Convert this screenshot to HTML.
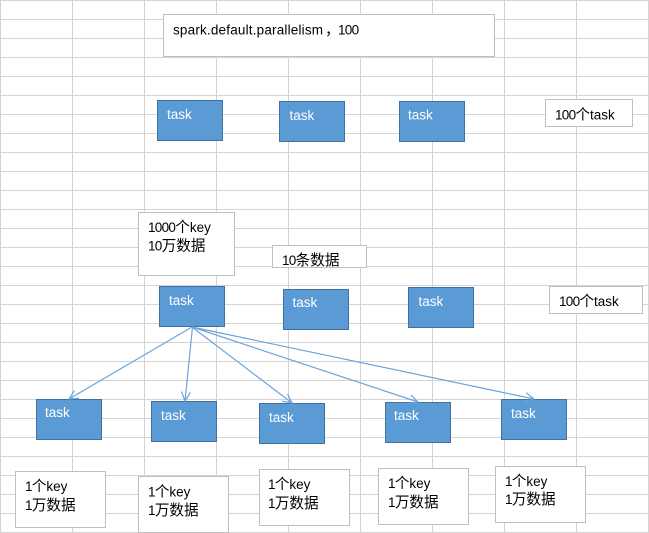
<!DOCTYPE html>
<html>
<head>
<meta charset="utf-8">
<style>
html,body{margin:0;padding:0;background:#fff;width:649px;height:533px;overflow:hidden}
svg{display:block}
text{font-family:"Liberation Sans","Noto Sans CJK SC",sans-serif;font-size:13.5px;fill:#000}
.c{font-family:"Noto Sans CJK SC","WenQuanYi Zen Hei",sans-serif;font-size:14.6px}
.d{font-size:13.5px;letter-spacing:-0.7px}
.t{fill:#fff}
.g{stroke:#d4d4d4;stroke-width:1;fill:none;shape-rendering:crispEdges}
.b{fill:#5b9bd5;stroke:#41719c;stroke-width:1;shape-rendering:crispEdges}
.w{fill:#fff;stroke:#bfbfbf;stroke-width:1;shape-rendering:crispEdges}
.a{stroke:#6aa5dc;stroke-width:1.2;fill:none}
</style>
</head>
<body>
<svg width="649" height="533" viewBox="0 0 649 533" xmlns="http://www.w3.org/2000/svg">
<defs>
<marker id="h" markerUnits="userSpaceOnUse" markerWidth="12" markerHeight="12" refX="10" refY="6" orient="auto">
<path d="M1,1.500 L10,6 L1,10.500" fill="none" stroke="#6aa5dc" stroke-width="1.2"/>
</marker>
</defs>
<path class="g" d="M0.500 0V533M72.500 0V533M144.500 0V533M216.500 0V533M288.500 0V533M360.500 0V533M432.500 0V533M504.500 0V533M576.500 0V533M648.500 0V533"/>
<path class="g" d="M0 0.500H649M0 19.500H649M0 38.500H649M0 57.500H649M0 76.500H649M0 95.500H649M0 114.500H649M0 133.500H649M0 152.500H649M0 171.500H649M0 190.500H649M0 209.500H649M0 228.500H649M0 247.500H649M0 266.500H649M0 285.500H649M0 304.500H649M0 323.500H649M0 342.500H649M0 361.500H649M0 380.500H649M0 399.500H649M0 418.500H649M0 437.500H649M0 456.500H649M0 475.500H649M0 494.500H649M0 513.500H649M0 532.500H649"/>

<rect class="w" x="163.500" y="14.500" width="331" height="42"/>
<text x="173" y="34.500" textLength="150" lengthAdjust="spacing">spark.default.parallelism</text>
<text class="c" x="325" y="34.500">，</text>
<text class="d" x="338" y="34.500">100</text>

<rect class="b" x="157.500" y="100.500" width="65" height="40"/>
<rect class="b" x="279.500" y="101.500" width="65" height="40"/>
<rect class="b" x="399.500" y="101.500" width="65" height="40"/>
<text class="t" x="167" y="119">task</text>
<text class="t" x="289.500" y="120">task</text>
<text class="t" x="408" y="119.500">task</text>

<rect class="w" x="545.500" y="99.500" width="87" height="27"/>
<text x="555" y="119.500"><tspan class="d">100</tspan><tspan class="c">个</tspan>task</text>

<rect class="w" x="138.500" y="212.500" width="96" height="63"/>
<text x="148" y="232"><tspan class="d">1000</tspan><tspan class="c">个</tspan>key</text>
<text x="148" y="250.500"><tspan class="d">10</tspan><tspan class="c">万数据</tspan></text>

<rect class="w" x="272.500" y="245.500" width="94" height="22"/>
<text x="282" y="265"><tspan class="d">10</tspan><tspan class="c">条数据</tspan></text>

<rect class="b" x="159.500" y="286.500" width="65" height="40"/>
<rect class="b" x="283.500" y="289.500" width="65" height="40"/>
<rect class="b" x="408.500" y="287.500" width="65" height="40"/>
<text class="t" x="169" y="305">task</text>
<text class="t" x="292.500" y="307">task</text>
<text class="t" x="418.500" y="306">task</text>

<rect class="w" x="549.500" y="286.500" width="93" height="27"/>
<text x="559" y="306"><tspan class="d">100</tspan><tspan class="c">个</tspan>task</text>

<rect class="b" x="36.500" y="399.500" width="65" height="40"/>
<rect class="b" x="151.500" y="401.500" width="65" height="40"/>
<rect class="b" x="259.500" y="403.500" width="65" height="40"/>
<rect class="b" x="385.500" y="402.500" width="65" height="40"/>
<rect class="b" x="501.500" y="399.500" width="65" height="40"/>
<text class="t" x="45" y="417">task</text>
<text class="t" x="161" y="420">task</text>
<text class="t" x="269" y="422">task</text>
<text class="t" x="394" y="420">task</text>
<text class="t" x="511" y="418">task</text>

<path class="a" marker-end="url(#h)" d="M192 327L69 399"/>
<path class="a" marker-end="url(#h)" d="M192.500 327L185 401"/>
<path class="a" marker-end="url(#h)" d="M192 327L292 403"/>
<path class="a" marker-end="url(#h)" d="M192 327L418 402"/>
<path class="a" marker-end="url(#h)" d="M192 327L534 399"/>

<rect class="w" x="15.500" y="471.500" width="90" height="56"/>
<text x="25" y="491"><tspan class="d">1</tspan><tspan class="c">个</tspan>key</text>
<text x="25" y="510"><tspan class="d">1</tspan><tspan class="c">万数据</tspan></text>

<rect class="w" x="138.500" y="476.500" width="90" height="56"/>
<text x="148" y="496.500"><tspan class="d">1</tspan><tspan class="c">个</tspan>key</text>
<text x="148" y="515"><tspan class="d">1</tspan><tspan class="c">万数据</tspan></text>

<rect class="w" x="259.500" y="469.500" width="90" height="56"/>
<text x="268" y="489"><tspan class="d">1</tspan><tspan class="c">个</tspan>key</text>
<text x="268" y="508"><tspan class="d">1</tspan><tspan class="c">万数据</tspan></text>

<rect class="w" x="378.500" y="468.500" width="90" height="56"/>
<text x="388" y="488"><tspan class="d">1</tspan><tspan class="c">个</tspan>key</text>
<text x="388" y="507"><tspan class="d">1</tspan><tspan class="c">万数据</tspan></text>

<rect class="w" x="495.500" y="466.500" width="90" height="56"/>
<text x="505" y="486"><tspan class="d">1</tspan><tspan class="c">个</tspan>key</text>
<text x="505" y="504"><tspan class="d">1</tspan><tspan class="c">万数据</tspan></text>
</svg>
</body>
</html>
